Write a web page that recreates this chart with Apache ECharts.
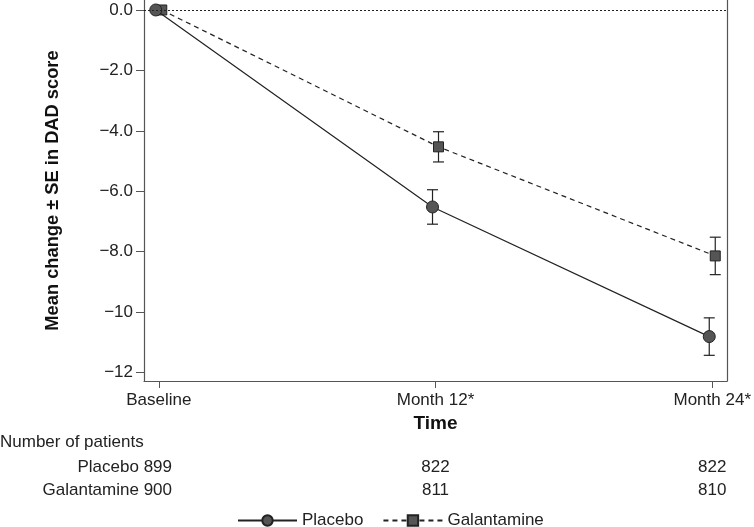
<!DOCTYPE html>
<html>
<head>
<meta charset="utf-8">
<script src="https://cdn.jsdelivr.net/npm/echarts@6/dist/echarts.min.js"></script>
<style>
  html, body { margin: 0; padding: 0; background: #fff; }
  #chart { width: 754px; height: 527px; }
</style>
</head>
<body>
<div id="chart"></div>
<script>
// time points (months) and their labels
const months = [0, 12, 24];
const timeLabels = ['Baseline', 'Month 12*', 'Month 24*'];
const yTicks = [0, -2, -4, -6, -8, -10, -12];

// mean change and SE in DAD score
const placeboMean = [0, -6.52, -10.81];
const placeboSE = [0, 0.57, 0.62];
const galMean = [0, -4.53, -8.14];
const galSE = [0, 0.50, 0.62];

// number of patients
const placeboN = [899, 822, 822];
const galN = [900, 811, 810];

const FONT = 'Liberation Sans, Arial, sans-serif';
const dodge = 0.13; // small horizontal offset so the groups do not overlap

const chart = echarts.init(document.getElementById('chart'));

function pts(mean, off) {
    return months.map((m, i) => [m + off, mean[i]]);
}
function errData(mean, se, off) {
    return months.map((m, i) => [m + off, mean[i] - se[i], mean[i] + se[i]]);
}
function errRender(params, api) {
    const lo = api.value(1), hi = api.value(2);
    if (lo === hi) return null;
    const p1 = api.coord([api.value(0), hi]);
    const p2 = api.coord([api.value(0), lo]);
    const w = 5.5;
    const st = { stroke: '#222', lineWidth: 1.2 };
    return {
        type: 'group',
        children: [
            { type: 'line', shape: { x1: p1[0], y1: p1[1], x2: p2[0], y2: p2[1] }, style: st },
            { type: 'line', shape: { x1: p1[0] - w, y1: p1[1], x2: p1[0] + w, y2: p1[1] }, style: st },
            { type: 'line', shape: { x1: p2[0] - w, y1: p2[1], x2: p2[0] + w, y2: p2[1] }, style: st }
        ]
    };
}
function fmtY(v) {
    const s = Math.abs(v) >= 10 ? Math.abs(v).toFixed(0) : Math.abs(v).toFixed(1);
    return v < 0 ? '\u2212' + s : s;
}

const axisLine = { show: true, onZero: false, lineStyle: { color: '#555', width: 1.2 } };

const option = {
    animation: false,
    textStyle: { fontFamily: FONT },
    grid: { left: 144, right: 26, top: 0, bottom: 146 },
    xAxis: {
        type: 'value',
        min: -0.64,
        max: 24.64,
        splitLine: { show: false },
        axisLine: axisLine,
        axisTick: { show: true, customValues: months, length: 7, lineStyle: { color: '#555' } },
        axisLabel: {
            customValues: months,
            formatter: v => timeLabels[months.indexOf(v)],
            fontSize: 17, color: '#222', margin: 11
        },
        name: 'Time',
        nameLocation: 'middle',
        nameGap: 29,
        nameTextStyle: { fontSize: 19, fontWeight: 'bold', color: '#111' }
    },
    yAxis: [{
        type: 'value',
        min: -12.28,
        max: 0.33,
        splitLine: { show: false },
        axisLine: axisLine,
        axisTick: { show: true, customValues: yTicks, length: 8, lineStyle: { color: '#555' } },
        axisLabel: { customValues: yTicks, formatter: fmtY, fontSize: 17, color: '#222', margin: 11 },
        name: 'Mean change \u00b1 SE in DAD score',
        nameLocation: 'middle',
        nameGap: 82,
        nameTextStyle: { fontSize: 18.3, fontWeight: 'bold', color: '#111' }
    }, {
        type: 'value',
        position: 'right',
        min: -12.28,
        max: 0.33,
        splitLine: { show: false },
        axisLine: axisLine,
        axisTick: { show: false },
        axisLabel: { show: false }
    }],
    legend: {
        top: 512,
        left: 237,
        padding: 0,
        itemWidth: 59,
        itemHeight: 13,
        itemGap: 19,
        textStyle: { fontSize: 17, color: '#222' },
        data: ['Placebo', 'Galantamine']
    },
    series: [
        {
            name: 'Galantamine',
            type: 'line',
            data: pts(galMean, dodge),
            symbol: 'rect',
            symbolSize: 10,
            itemStyle: { color: '#555', borderColor: '#222', borderWidth: 1 },
            lineStyle: { color: '#222', width: 1.2, type: [5, 4] },
            z: 3
        },
        {
            name: 'Placebo',
            type: 'line',
            data: pts(placeboMean, -dodge),
            symbol: 'circle',
            symbolSize: 12,
            itemStyle: { color: '#555', borderColor: '#222', borderWidth: 1 },
            lineStyle: { color: '#222', width: 1.2 },
            markLine: {
                silent: true,
                symbol: 'none',
                label: { show: false },
                lineStyle: { color: '#222', type: [2, 2], width: 1 },
                data: [{ yAxis: 0 }]
            },
            z: 4
        },
        {
            type: 'custom',
            renderItem: errRender,
            data: errData(galMean, galSE, dodge),
            encode: { x: 0, y: [1, 2] },
            z: 2
        },
        {
            type: 'custom',
            renderItem: errRender,
            data: errData(placeboMean, placeboSE, -dodge),
            encode: { x: 0, y: [1, 2] },
            z: 2
        }
    ]
};
chart.setOption(option);

// patient count table under the axis
const tStyle = { fontSize: 17, fill: '#222', fontFamily: FONT, verticalAlign: 'middle' };
const rows = [['Placebo', placeboN, 467], ['Galantamine', galN, 490]];
const els = [{
    type: 'text', x: 0, y: 442,
    style: Object.assign({ text: 'Number of patients', align: 'left' }, tStyle)
}];
rows.forEach(([name, counts, y]) => {
    els.push({
        type: 'text', x: 172, y: y,
        style: Object.assign({ text: name + ' ' + counts[0], align: 'right' }, tStyle)
    });
    for (let i = 1; i < months.length; i++) {
        const px = chart.convertToPixel({ xAxisIndex: 0 }, months[i]);
        els.push({
            type: 'text', x: px, y: y,
            style: Object.assign({ text: String(counts[i]), align: 'center' }, tStyle)
        });
    }
});
chart.setOption({ graphic: els });
</script>
</body>
</html>
